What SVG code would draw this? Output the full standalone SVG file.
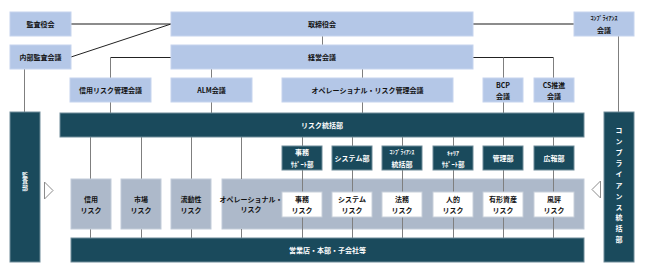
<svg xmlns="http://www.w3.org/2000/svg" width="645" height="275" viewBox="0 0 645 275">
<style>
text{font-family:"Noto Sans CJK JP","Noto Sans",sans-serif;font-size:7px;font-weight:bold;text-anchor:middle;dominant-baseline:central}
.vt{writing-mode:vertical-rl}
.lb{fill:#b4c7e7;stroke:#c6d4ee;stroke-width:1}
.dk{fill:#1a4a5c;stroke:#6f8c99;stroke-width:1}
.gr{fill:#adb9ca;stroke:#c2ccd9;stroke-width:1}
.wh{fill:#ffffff;stroke:#c8d0da;stroke-width:1}
.tw{fill:#ffffff}
.tb{fill:#111111}
.ln{stroke:#7f7f7f;stroke-width:1;fill:none}
.lk{stroke:#222222;stroke-width:1;fill:none}
.lt{stroke:#8c8c8c;stroke-width:2;fill:none}
.tri{fill:#ffffff;stroke:#8c8c8c;stroke-width:1}
</style>
<rect width="645" height="275" fill="#ffffff"/>
<g id="gray-area"><rect class="gr" x="222" y="179" width="362" height="50"/></g>
<g id="connectors">
<line class="lt" x1="71" y1="24" x2="171" y2="24"/>
<line class="lt" x1="473" y1="24" x2="574" y2="24"/>
<line class="lk" x1="71" y1="57" x2="171" y2="24"/>
<line class="ln" x1="322.5" y1="36" x2="322.5" y2="45"/>
<polyline class="lk" points="171,57.5 110.5,57.5"/>
<line class="ln" x1="110.5" y1="57.5" x2="110.5" y2="113"/>
<line class="ln" x1="211.5" y1="69" x2="211.5" y2="113"/>
<line class="ln" x1="362.5" y1="69" x2="362.5" y2="113"/>
<polyline class="lk" points="473,57.5 553.5,57.5"/>
<line class="ln" x1="503.5" y1="57.5" x2="503.5" y2="113"/>
<line class="ln" x1="553.5" y1="57.5" x2="553.5" y2="113"/>
<line class="ln" x1="24.5" y1="69" x2="24.5" y2="112"/>
<line class="ln" x1="618.5" y1="36" x2="618.5" y2="112"/>
<line class="ln" x1="90.5" y1="137" x2="90.5" y2="238"/>
<line class="ln" x1="141.5" y1="137" x2="141.5" y2="238"/>
<line class="ln" x1="191.5" y1="137" x2="191.5" y2="238"/>
<line class="ln" x1="241.5" y1="137" x2="241.5" y2="179"/>
<line class="ln" x1="241.5" y1="229" x2="241.5" y2="238"/>
<line class="ln" x1="302.5" y1="137" x2="302.5" y2="238"/>
<line class="ln" x1="352.5" y1="137" x2="352.5" y2="238"/>
<line class="ln" x1="402.5" y1="137" x2="402.5" y2="238"/>
<line class="ln" x1="453.5" y1="137" x2="453.5" y2="238"/>
<line class="ln" x1="503.5" y1="137" x2="503.5" y2="238"/>
<line class="ln" x1="553.5" y1="137" x2="553.5" y2="238"/>
<polygon class="tri" points="44.5,182 44.5,199 53,190.5"/>
<polygon class="tri" points="600.5,181 600.5,198 592,189.5"/>
</g>
<g id="kansayakukai"><rect class="lb" x="10" y="12" width="61" height="24"/><text class="tb" x="40.5" y="24">監査役会</text></g>
<g id="torishimariyakukai"><rect class="lb" x="171" y="12" width="302" height="24"/><text class="tb" x="322" y="24">取締役会</text></g>
<g id="compliance-kaigi"><rect class="lb" x="574" y="12" width="60" height="24"/><text class="tb" x="604" y="17.5" style="font-size:6px">ｺﾝﾌﾟﾗｲｱﾝｽ</text><text class="tb" x="604" y="29.5">会議</text></g>
<g id="naibu-kansa-kaigi"><rect class="lb" x="10" y="45" width="61" height="24"/><text class="tb" x="40.5" y="57">内部監査会議</text></g>
<g id="keiei-kaigi"><rect class="lb" x="171" y="45" width="302" height="24"/><text class="tb" x="322" y="57">経営会議</text></g>
<g id="shinyo-risk-kanri-kaigi"><rect class="lb" x="70" y="78" width="81" height="24"/><text class="tb" x="110.5" y="90">信用リスク管理会議</text></g>
<g id="alm-kaigi"><rect class="lb" x="171" y="78" width="81" height="24"/><text class="tb" x="211.5" y="90">ALM会議</text></g>
<g id="op-risk-kanri-kaigi"><rect class="lb" x="282" y="78" width="171" height="24"/><text class="tb" x="367.5" y="90">オペレーショナル・リスク管理会議</text></g>
<g id="bcp-kaigi"><rect class="lb" x="483" y="78" width="40" height="24"/><text class="tb" x="503" y="84.5">BCP</text><text class="tb" x="503" y="96">会議</text></g>
<g id="cs-suishin-kaigi"><rect class="lb" x="534" y="78" width="40" height="24"/><text class="tb" x="554" y="84.5">CS推進</text><text class="tb" x="554" y="96">会議</text></g>
<g id="risk-tokatsubu"><rect class="dk" x="60" y="113" width="524" height="24"/><text class="tw" x="322" y="125">リスク統括部</text></g>
<g id="kansabu"><rect class="dk" x="10" y="112" width="30" height="150"/><text class="tw vt" x="25" y="181" style="font-size:6px;letter-spacing:0.5px">監査部</text></g>
<g id="compliance-tokatsubu-v"><rect class="dk" x="604" y="112" width="30" height="150"/><text class="tw vt" x="619" y="187" style="letter-spacing:3.9px">コンプライアンス統括部</text></g>
<g id="jimu-support-bu"><rect class="dk" x="282" y="146" width="40" height="24"/><text class="tw" x="302" y="152">事務</text><text class="tw" x="302" y="163.5" style="font-size:6.5px">ｻﾎﾟｰﾄ部</text></g>
<g id="system-bu"><rect class="dk" x="332" y="146" width="40" height="24"/><text class="tw" x="352" y="158">システム部</text></g>
<g id="compliance-tokatsubu"><rect class="dk" x="382" y="146" width="40" height="24"/><text class="tw" x="402" y="152" style="font-size:5.5px">ｺﾝﾌﾟﾗｲｱﾝｽ</text><text class="tw" x="402" y="163.5">統括部</text></g>
<g id="career-support-bu"><rect class="dk" x="433" y="146" width="40" height="24"/><text class="tw" x="453" y="152" style="font-size:6px">ｷｬﾘｱ</text><text class="tw" x="453" y="163.5" style="font-size:6.5px">ｻﾎﾟｰﾄ部</text></g>
<g id="kanri-bu"><rect class="dk" x="483" y="146" width="40" height="24"/><text class="tw" x="503" y="158">管理部</text></g>
<g id="koho-bu"><rect class="dk" x="534" y="146" width="40" height="24"/><text class="tw" x="554" y="158">広報部</text></g>
<g id="shinyo-risk"><rect class="gr" x="71" y="179" width="40" height="50"/><text class="tb" x="91" y="198.5">信用</text><text class="tb" x="91" y="209.5">リスク</text></g>
<g id="shijo-risk"><rect class="gr" x="121" y="179" width="40" height="50"/><text class="tb" x="141" y="198.5">市場</text><text class="tb" x="141" y="209.5">リスク</text></g>
<g id="ryudosei-risk"><rect class="gr" x="171" y="179" width="40" height="50"/><text class="tb" x="191" y="198.5">流動性</text><text class="tb" x="191" y="209.5">リスク</text></g>
<g id="op-risk"><text class="tb" x="251" y="199">オペレーショナル・</text><text class="tb" x="251" y="209">リスク</text></g>
<g id="jimu-risk"><rect class="wh" x="282" y="192" width="40" height="25"/><text class="tb" x="302" y="199">事務</text><text class="tb" x="302" y="209.5">リスク</text></g>
<g id="system-risk"><rect class="wh" x="332" y="192" width="40" height="25"/><text class="tb" x="352" y="199">システム</text><text class="tb" x="352" y="209.5">リスク</text></g>
<g id="homu-risk"><rect class="wh" x="382" y="192" width="40" height="25"/><text class="tb" x="402" y="199">法務</text><text class="tb" x="402" y="209.5">リスク</text></g>
<g id="jinteki-risk"><rect class="wh" x="433" y="192" width="40" height="25"/><text class="tb" x="453" y="199">人的</text><text class="tb" x="453" y="209.5">リスク</text></g>
<g id="yukei-shisan-risk"><rect class="wh" x="483" y="192" width="40" height="25"/><text class="tb" x="503" y="199">有形資産</text><text class="tb" x="503" y="209.5">リスク</text></g>
<g id="fuhyo-risk"><rect class="wh" x="534" y="192" width="40" height="25"/><text class="tb" x="554" y="199">風評</text><text class="tb" x="554" y="209.5">リスク</text></g>
<g id="eigyoten"><rect class="dk" x="71" y="238" width="513" height="24"/><text class="tw" x="327.5" y="250">営業店・本部・子会社等</text></g>
</svg>
